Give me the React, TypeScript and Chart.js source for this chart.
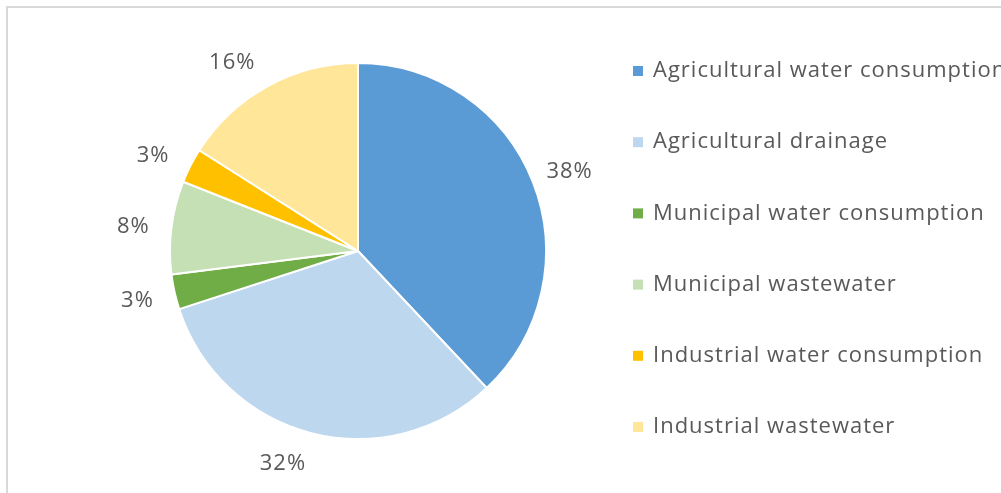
import React, { useEffect, useRef } from "react";
import { Chart, registerables } from "chart.js";

Chart.register(...registerables);

const categories = [
  "Agricultural water consumption",
  "Agricultural drainage",
  "Municipal water consumption",
  "Municipal wastewater",
  "Industrial water consumption",
  "Industrial wastewater",
];
const shares = [38, 32, 3, 8, 3, 16];
const percentLabels = ["38%", "32%", "3%", "8%", "3%", "16%"];
const sliceColors = ["#5B9BD5", "#BDD7EE", "#70AD47", "#C5E0B4", "#FFC000", "#FFE699"];
// small angular nudges (degrees) for the outside labels, as placed in the original
const labelNudgeDeg = [1, 5, 0, -1, -2, -5];

const TEXT_COLOR = "#595959";
const FONT = "'Open Sans', sans-serif";

const labelsPlugin = {
  id: "outerLabels",
  afterDatasetsDraw(chart: any) {
    const ctx = chart.ctx;
    const meta = chart.getDatasetMeta(0);
    ctx.save();
    ctx.font = `22px ${FONT}`;
    (ctx as any).letterSpacing = "1px";
    ctx.fillStyle = TEXT_COLOR;
    ctx.textAlign = "center";
    ctx.textBaseline = "middle";
    meta.data.forEach((arc: any, i: number) => {
      const { x, y, startAngle, endAngle, outerRadius } = arc.getProps(
        ["x", "y", "startAngle", "endAngle", "outerRadius"],
        true
      );
      const mid = (startAngle + endAngle) / 2 + (labelNudgeDeg[i] * Math.PI) / 180;
      const r = outerRadius + 38;
      ctx.fillText(percentLabels[i], x + Math.cos(mid) * r, y + Math.sin(mid) * r);
    });
    ctx.restore();
  },
};

const legendPlugin = {
  id: "sideLegend",
  afterDraw(chart: any) {
    const ctx = chart.ctx;
    ctx.save();
    // frame
    ctx.strokeStyle = "#D9D9D9";
    ctx.lineWidth = 2;
    ctx.beginPath();
    ctx.moveTo(7, 493);
    ctx.lineTo(7, 7);
    ctx.lineTo(1001, 7);
    ctx.stroke();

    ctx.font = `22px ${FONT}`;
    (ctx as any).letterSpacing = "1px";
    ctx.textBaseline = "middle";
    ctx.textAlign = "left";
    categories.forEach((c, i) => {
      const y = 71 + i * 71.2;
      ctx.fillStyle = sliceColors[i];
      ctx.fillRect(633, y - 5, 10, 10);
      ctx.fillStyle = TEXT_COLOR;
      ctx.fillText(c, 653, y);
    });
    ctx.restore();
  },
};

export default function App() {
  const ref = useRef<HTMLCanvasElement>(null);
  useEffect(() => {
    if (!ref.current) return;
    const chart = new Chart(ref.current, {
      type: "pie",
      data: {
        labels: categories,
        datasets: [
          {
            data: shares,
            backgroundColor: sliceColors,
            borderColor: "#FFFFFF",
            borderWidth: 2,
          },
        ],
      },
      options: {
        animation: false,
        responsive: false,
        layout: { padding: { left: 169, right: 454, top: 62, bottom: 53 } },
        plugins: {
          legend: { display: false },
          tooltip: { enabled: false },
        },
      },
      plugins: [labelsPlugin, legendPlugin],
    });
    return () => chart.destroy();
  }, []);
  return (
    <div style={{ position: "fixed", left: 0, top: 0, width: 1001, height: 493, background: "#fff" }}>
      <canvas ref={ref} width={1001} height={493} style={{ width: 1001, height: 493 }} />
    </div>
  );
}
